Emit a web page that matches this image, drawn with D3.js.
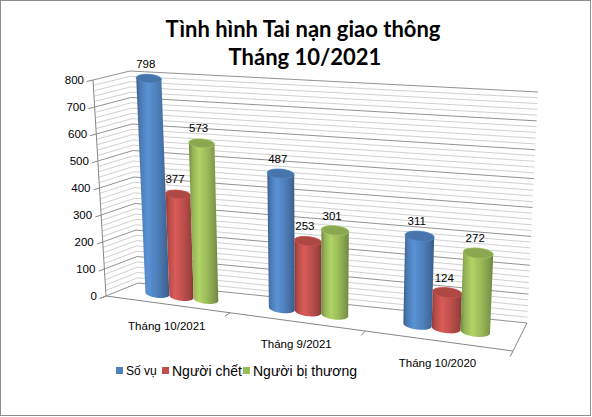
<!DOCTYPE html>
<html>
<head>
<meta charset="utf-8">
<script src="https://cdn.jsdelivr.net/npm/d3@7"></script>
<style>
body { margin: 0; background: #fff; }
svg text { font-family: "Liberation Sans", Arial, sans-serif; fill: #000; }
</style>
</head>
<body>
<script>
var categories = ["Tháng 10/2021", "Tháng 9/2021", "Tháng 10/2020"];
var seriesNames = ["Số vụ", "Người chết", "Người bị thương"];
var soVu = [798, 487, 311];
var nguoiChet = [377, 253, 124];
var nguoiBiThuong = [573, 301, 272];
var valueTicks = [0, 100, 200, 300, 400, 500, 600, 700, 800];

var colors = ["#4F81BD", "#C0504D", "#9BBB59"];
var seriesValues = [soVu, nguoiChet, nguoiBiThuong];

var width = 592, height = 417;

// corners of the 3d plot box on screen (left, right)
var box = {
  frontBottom: [[106, 296], [513, 351]],
  backBottom: [[138, 283], [527, 323]],
  frontTop: [[93, 80], [524, 116]],
  backTop: [[130, 71], [538, 92]]
};

var yScale = d3.scaleLinear().domain([0, 800]).range([0, 1]);
var xBand = d3.scaleBand().domain(categories).range([0, 1])
  .paddingInner(0.4).paddingOuter(0.2);
var xSeries = d3.scaleBand().domain(seriesNames).range([0, xBand.bandwidth()]);

// perspective squeeze along the category axis
function warp(u) { return 0.878 * u / (1 - 0.122 * u); }

function lerp(a, b, k) { return [a[0] + (b[0] - a[0]) * k, a[1] + (b[1] - a[1]) * k]; }

// u: category axis 0..1, w: depth 0 (front) .. 1 (back), h: height 0..1
function project(u, w, h) {
  var k = warp(u);
  var fb = lerp(box.frontBottom[0], box.frontBottom[1], k);
  var bb = lerp(box.backBottom[0], box.backBottom[1], k);
  var ft = lerp(box.frontTop[0], box.frontTop[1], k);
  var bt = lerp(box.backTop[0], box.backTop[1], k);
  return lerp(lerp(fb, bb, w), lerp(ft, bt, w), h);
}

var svg = d3.select("body").append("svg")
  .attr("width", width)
  .attr("height", height);

var defs = svg.append("defs");

svg.append("rect")
  .attr("x", 0.5).attr("y", 0.5)
  .attr("width", width - 2).attr("height", height - 2)
  .attr("fill", "#fff")
  .attr("stroke", "#8c8c8c");

// title
svg.append("text")
  .attr("x", 303).attr("y", 37)
  .attr("text-anchor", "middle")
  .style("font-family", "Lato, sans-serif")
  .style("font-weight", "bold")
  .style("font-size", "22px")
  .text("Tình hình Tai nạn giao thông");
svg.append("text")
  .attr("x", 305).attr("y", 65)
  .attr("text-anchor", "middle")
  .style("font-family", "Lato, sans-serif")
  .style("font-weight", "bold")
  .style("font-size", "22px")
  .text("Tháng 10/2021");

// gridlines on the side wall and back wall, minor every 20
var grid = svg.append("g");
var gridValues = d3.range(0, 801, 20);
gridValues.forEach(function (v) {
  var major = v % 100 === 0;
  var h = yScale(v);
  var a = project(0, 0, h), b = project(0, 1, h), c = project(1, 1, h);
  grid.append("polyline")
    .attr("points", [a, b, c].join(" "))
    .attr("fill", "none")
    .attr("stroke", major ? "#868686" : "#c4c4c4")
    .attr("stroke-width", major ? 0.9 : 0.8);
});

// axes and floor edges
var axisColor = "#868686";
var axes = svg.append("g").attr("stroke", axisColor).attr("fill", "none");
axes.append("polyline")
  .attr("points", [project(0, 0, 1), project(0, 0, 0), project(1, 0, 0), project(1, 1, 0)].join(" "));

valueTicks.forEach(function (v) {
  var h = yScale(v);
  axes.append("line")
    .attr("x1", project(0, 0, h)[0]).attr("y1", project(0, 0, h)[1])
    .attr("x2", project(0, -0.17, h)[0]).attr("y2", project(0, -0.17, h)[1]);
  var p = project(0, 0, h);
  svg.append("text")
    .attr("x", p[0] - 9).attr("y", p[1])
    .attr("dy", "0.35em")
    .attr("text-anchor", "end")
    .style("font-size", "11.5px")
    .text(v);
});

[0, 1 / 3, 2 / 3, 1].forEach(function (u) {
  var p = project(u, 0, 0), q = project(u, -0.2, 0);
  axes.append("line")
    .attr("x1", p[0]).attr("y1", p[1])
    .attr("x2", q[0]).attr("y2", q[1]);
});

categories.forEach(function (c) {
  var p = project(xBand(c) + xBand.bandwidth() / 2, 0, 0);
  svg.append("text")
    .attr("x", p[0]).attr("y", p[1] + 22)
    .attr("dy", "0.35em")
    .attr("text-anchor", "middle")
    .style("font-size", "11.5px")
    .text(c);
});

// shading for the cylinders
colors.forEach(function (col, i) {
  var base = d3.color(col);
  var g = defs.append("linearGradient")
    .attr("id", "cyl" + i)
    .attr("x1", 0).attr("x2", 1).attr("y1", 0).attr("y2", 0);
  [[0, base.darker(0.9)], [0.12, base.darker(0.15)], [0.35, base.brighter(0.35)],
   [0.62, base], [0.9, base.darker(0.6)], [1, base.darker(1.0)]].forEach(function (s) {
    g.append("stop").attr("offset", s[0]).attr("stop-color", s[1]);
  });
});

function ellipse(center, rx, ry, angle) {
  return d3.range(0, 48).map(function (i) {
    var a = i / 48 * 2 * Math.PI;
    var x = rx * Math.cos(a), y = ry * Math.sin(a);
    return [center[0] + x * Math.cos(angle) - y * Math.sin(angle),
            center[1] + x * Math.sin(angle) + y * Math.cos(angle)];
  });
}

var depth = 0.5;
var bars = svg.append("g");
var labels = svg.append("g");

categories.forEach(function (c, ci) {
  seriesNames.forEach(function (s, si) {
    var v = seriesValues[si][ci];
    var r = xSeries.bandwidth() / 2;
    var uc = xBand(c) + xSeries(s) + r;

    function ring(h) {
      var a = project(uc - r, depth, h), b = project(uc + r, depth, h);
      var center = project(uc, depth, h);
      var rx = Math.hypot(b[0] - a[0], b[1] - a[1]) / 2;
      var angle = Math.atan2(b[1] - a[1], b[0] - a[0]);
      return { center: center, pts: ellipse(center, rx, rx * 0.34, angle), rx: rx };
    }

    var bottom = ring(0), top = ring(yScale(v));
    var hull = d3.polygonHull(bottom.pts.concat(top.pts));

    bars.append("path")
      .attr("d", "M" + hull.join("L") + "Z")
      .attr("fill", "url(#cyl" + si + ")");
    bars.append("path")
      .attr("d", "M" + top.pts.join("L") + "Z")
      .attr("fill", d3.color(colors[si]).darker(0.3))
      .attr("stroke", d3.color(colors[si]).brighter(0.2))
      .attr("stroke-width", 0.7);

    labels.append("text")
      .attr("x", top.center[0] - 3).attr("y", top.center[1] - 15)
      .attr("dy", "0.35em")
      .attr("text-anchor", "middle")
      .style("font-size", "11.5px")
      .text(v);
  });
});

// legend
var legendX = [116, 162, 243];
var legendSize = ["12px", "14px", "14px"];
var legend = svg.append("g");
seriesNames.forEach(function (s, i) {
  legend.append("rect")
    .attr("x", legendX[i]).attr("y", 367)
    .attr("width", 7).attr("height", 7)
    .attr("fill", colors[i]);
  legend.append("text")
    .attr("x", legendX[i] + 10).attr("y", 371)
    .attr("dy", "0.35em")
    .style("font-size", legendSize[i])
    .text(s);
});
</script>
</body>
</html>
